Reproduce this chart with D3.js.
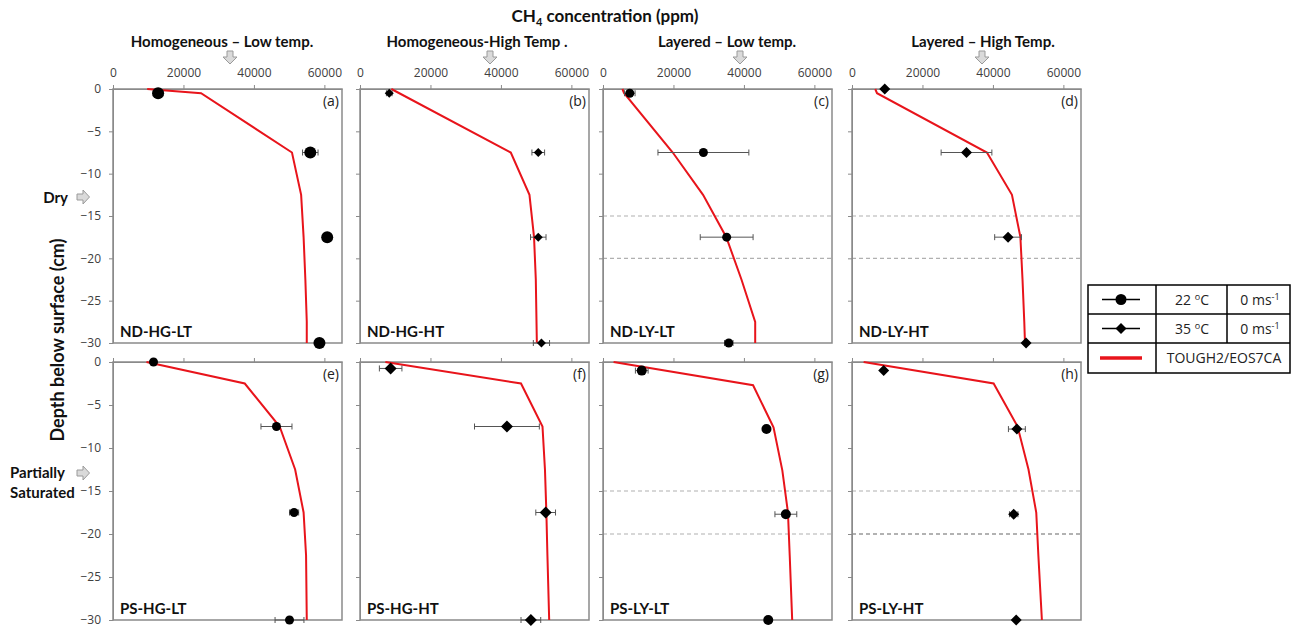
<!DOCTYPE html>
<html>
<head>
<meta charset="utf-8">
<script src="https://cdn.jsdelivr.net/npm/d3@7"></script>
<style>
	body { margin: 0; background: #fff; }
	text { font-family: "Open Sans", sans-serif; }
	.tick text { font-size: 12px; fill: #404040; font-family: "Open Sans", sans-serif; }
	.tick line, .domain { stroke: #8a8a8a; }
	.bold { font-family: Lato, sans-serif; font-weight: bold; fill: #111; }
</style>
</head>
<body>
<div id="chart"></div>
<script>
///////////////////////////////////////////////////////////////////////////
/////////////////////////////// The data //////////////////////////////////
///////////////////////////////////////////////////////////////////////////

var panelLetters = ["a", "b", "c", "d", "e", "f", "g", "h"];
var panelNames = ["ND-HG-LT", "ND-HG-HT", "ND-LY-LT", "ND-LY-HT",
	"PS-HG-LT", "PS-HG-HT", "PS-LY-LT", "PS-LY-HT"];
var panelTemp = [22, 35, 22, 35, 22, 35, 22, 35];
var layered = [false, false, true, true, false, false, true, true];
var layerDepths = [-15, -20];

var columnTitles = ["Homogeneous \u2013 Low temp.", "Homogeneous-High Temp .",
	"Layered \u2013 Low temp.", "Layered \u2013 High Temp."];
var xTicks = [0, 20000, 40000, 60000];
var yTicks = [0, -5, -10, -15, -20, -25, -30];

//measured CH4 (ppm) with error bar half widths
var obsDepths = [
	[-0.5, -7.5, -17.5, -30], [-0.5, -7.5, -17.5, -30],
	[-0.5, -7.5, -17.5, -30], [0, -7.5, -17.5, -30],
	[0, -7.5, -17.5, -30], [-0.75, -7.5, -17.5, -30],
	[-1, -7.8, -17.7, -30], [-1, -7.8, -17.7, -30]
];
var obsValues = [
	[12800, 56000, 60800, 58600], [8300, 50600, 50600, 51500],
	[7600, 28500, 35100, 35700], [9300, 32500, 44300, 49400],
	[11500, 46400, 51400, 50100], [8700, 41700, 52700, 48500],
	[11000, 46400, 51900, 46900], [9000, 46800, 45900, 46600]
];
var obsErrors = [
	[1400, 2200, 0, 0], [800, 1800, 2200, 2300],
	[1500, 12900, 7500, 1200], [0, 7200, 3800, 0],
	[0, 4400, 1300, 4100], [3200, 9200, 2800, 2800],
	[1800, 0, 3100, 0], [0, 2400, 1200, 0]
];

//TOUGH2/EOS7CA profiles
var modelDepths = [
	[0, -0.5, -7.5, -12.5, -17.5, -22.5, -27.5, -30],
	[0, -7.5, -12.5, -17.5, -22.5, -30],
	[0, -0.5, -7.5, -12.5, -17.5, -22.5, -27.5, -30],
	[0, -0.5, -7.5, -12.5, -17.5, -22.5, -27.5, -30],
	[0, -2.5, -7.5, -12.5, -17.5, -22.5, -30],
	[0, -2.5, -7.5, -12.5, -17.5, -22.5, -30],
	[0, -2.7, -7.6, -12.6, -17.5, -22.5, -30],
	[0, -2.5, -7.5, -12.5, -17.5, -22.5, -30]
];
var modelValues = [
	[9700, 25000, 50800, 53400, 54100, 54600, 55000, 55000],
	[8900, 42800, 48100, 49400, 49900, 50200],
	[5500, 6000, 19800, 28400, 35000, 39300, 43200, 43200],
	[6600, 7100, 38300, 45400, 47800, 48400, 48900, 49100],
	[9500, 37400, 47300, 51700, 54100, 54800, 55000],
	[7200, 45700, 51800, 52500, 52900, 53200, 53700],
	[3000, 42600, 48400, 50900, 52500, 53000, 53700],
	[3300, 40200, 47000, 50100, 52300, 52900, 53900]
];

///////////////////////////////////////////////////////////////////////////
//////////////////////////// Set up the SVG ///////////////////////////////
///////////////////////////////////////////////////////////////////////////

var width = 1291, height = 628;
var panelLeft = [113, 360, 603, 852];
var panelW = 229;
var rowTop = [89, 362], rowBottom = [343, 620];
var markerSize = [6, 4.5, 4.5, 5.5, 4.5, 6, 5, 5.5];
var red = "#e8141b";

var svg = d3.select("#chart").append("svg")
	.attr("width", width)
	.attr("height", height);

svg.append("rect").attr("width", width).attr("height", height).style("fill", "#fff");

function diamond(s) {
	return "M0," + (-s) + "L" + s + ",0L0," + s + "L" + (-s) + ",0Z";
}
function drawMarker(g, temp, s) {
	if (temp === 22) {
		g.append("circle").attr("r", s).style("fill", "#000");
	} else {
		g.append("path").attr("d", diamond(s)).style("fill", "#000");
	}
}

///////////////////////////////////////////////////////////////////////////
/////////////////////////////// Panels ////////////////////////////////////
///////////////////////////////////////////////////////////////////////////

panelLetters.forEach(function(letter, i) {
	var row = Math.floor(i / 4), col = i % 4;
	var x0 = panelLeft[col], top = rowTop[row], bottom = rowBottom[row];

	var x = d3.scaleLinear().domain([0, 65000]).range([x0, x0 + panelW]);
	var y = d3.scaleLinear().domain([0, -30]).range([top, bottom]);

	var g = svg.append("g").attr("class", "panel");

	//frame
	g.append("rect")
		.attr("x", x0).attr("y", top)
		.attr("width", panelW).attr("height", bottom - top)
		.style("fill", "none").style("stroke", "#8a8a8a").style("stroke-width", 1.5);

	//layer boundaries
	if (layered[i]) {
		g.selectAll(".layer").data(layerDepths).enter().append("line")
			.attr("x1", x0).attr("x2", x0 + panelW)
			.attr("y1", function(d) { return y(d); })
			.attr("y2", function(d) { return y(d); })
			.style("stroke", function(d, j) { return (i === 7 && j === 1) ? "#666" : "#b0b0b0"; })
			.style("stroke-width", 1.2)
			.style("stroke-dasharray", "4,3");
	}

	g.append("g")
		.attr("transform", "translate(0," + top + ")")
		.call(d3.axisTop(x).tickValues(xTicks).tickSize(4).tickSizeOuter(0).tickPadding(8)
			.tickFormat(row === 0 ? d3.format("d") : ""));

	g.append("g")
		.attr("transform", "translate(" + x0 + ",0)")
		.call(d3.axisLeft(y).tickValues(yTicks).tickSize(4).tickSizeOuter(0).tickPadding(8)
			.tickFormat(col === 0 ? d3.format("d") : ""));

	//model line
	var line = d3.line()
		.x(function(d) { return x(d[1]); })
		.y(function(d) { return y(d[0]); });
	g.append("path")
		.datum(d3.zip(modelDepths[i], modelValues[i]))
		.attr("d", line)
		.style("fill", "none").style("stroke", red).style("stroke-width", 2);

	//error bars
	var obs = d3.zip(obsDepths[i], obsValues[i], obsErrors[i]);
	var err = g.selectAll(".err").data(obs.filter(function(d) { return d[2] > 0; }))
		.enter().append("g").attr("class", "err")
		.style("stroke", "#555").style("stroke-width", 1);
	err.append("line")
		.attr("x1", function(d) { return x(d[1] - d[2]); })
		.attr("x2", function(d) { return x(d[1] + d[2]); })
		.attr("y1", function(d) { return y(d[0]); })
		.attr("y2", function(d) { return y(d[0]); });
	[-1, 1].forEach(function(sgn) {
		err.append("line")
			.attr("x1", function(d) { return x(d[1] + sgn * d[2]); })
			.attr("x2", function(d) { return x(d[1] + sgn * d[2]); })
			.attr("y1", function(d) { return y(d[0]) - 3; })
			.attr("y2", function(d) { return y(d[0]) + 3; });
	});

	//markers
	obs.forEach(function(d) {
		var m = g.append("g").attr("transform", "translate(" + x(d[1]) + "," + y(d[0]) + ")");
		drawMarker(m, panelTemp[i], markerSize[i]);
	});

	g.append("text")
		.attr("x", x0 + panelW - 3).attr("y", top + 17)
		.style("text-anchor", "end").style("font-size", "14px").style("fill", "#222")
		.text("(" + letter + ")");

	g.append("text").attr("class", "bold")
		.attr("x", x0 + 7).attr("y", bottom - 6)
		.style("font-size", "15px")
		.text(panelNames[i]);
});

///////////////////////////////////////////////////////////////////////////
//////////////////////////////// Titles ///////////////////////////////////
///////////////////////////////////////////////////////////////////////////

function downArrow(cx, ty) {
	svg.append("path")
		.attr("d", "M" + (cx - 3) + "," + ty + "h6v6h4l-7,7l-7,-7h4z")
		.style("fill", "#dadada").style("stroke", "#9a9a9a").style("stroke-width", 1);
}
function rightArrow(lx, cy) {
	svg.append("path")
		.attr("d", "M" + lx + "," + (cy - 3) + "h6v-4l6.5,7l-6.5,7v-4h-6z")
		.style("fill", "#dadada").style("stroke", "#9a9a9a").style("stroke-width", 1);
}

var mainTitle = svg.append("text").attr("class", "bold")
	.attr("x", 605).attr("y", 22)
	.style("text-anchor", "middle").style("font-size", "17px");
mainTitle.append("tspan").text("CH");
mainTitle.append("tspan").attr("dy", 4).style("font-size", "11px").text("4");
mainTitle.append("tspan").attr("dy", -4).text(" concentration (ppm)");

var titleX = [222, 477, 727, 983];
var arrowX = [230, 490, 740, 982];
columnTitles.forEach(function(t, i) {
	svg.append("text").attr("class", "bold")
		.attr("x", titleX[i]).attr("y", 47)
		.style("text-anchor", "middle").style("font-size", "15px")
		.text(t);
	downArrow(arrowX[i], 51);
});

svg.append("text").attr("class", "bold")
	.attr("transform", "translate(64,340) rotate(-90)")
	.style("text-anchor", "middle").style("font-size", "18px")
	.text("Depth below surface (cm)");

svg.append("text").attr("class", "bold")
	.attr("x", 68).attr("y", 203)
	.style("text-anchor", "end").style("font-size", "15px")
	.text("Dry");
rightArrow(77, 197);

svg.append("text").attr("class", "bold")
	.attr("x", 10).attr("y", 478).style("font-size", "15px").text("Partially");
svg.append("text").attr("class", "bold")
	.attr("x", 10).attr("y", 498).style("font-size", "15px").text("Saturated");
rightArrow(77, 473);

///////////////////////////////////////////////////////////////////////////
//////////////////////////////// Legend ///////////////////////////////////
///////////////////////////////////////////////////////////////////////////

var legend = svg.append("g").attr("class", "legend");
var lx = 1088, ly = 285, lw = 202, rowH = [29, 29, 30];
var colX = [1088, 1156, 1227];

legend.append("rect")
	.attr("x", lx).attr("y", ly).attr("width", lw).attr("height", d3.sum(rowH))
	.style("fill", "#fff").style("stroke", "#000").style("stroke-width", 1.5);
legend.append("line").attr("x1", lx).attr("x2", lx + lw).attr("y1", ly + 29).attr("y2", ly + 29)
	.style("stroke", "#000").style("stroke-width", 1.5);
legend.append("line").attr("x1", lx).attr("x2", lx + lw).attr("y1", ly + 58).attr("y2", ly + 58)
	.style("stroke", "#000").style("stroke-width", 1.5);
legend.append("line").attr("x1", colX[1]).attr("x2", colX[1]).attr("y1", ly).attr("y2", ly + 88)
	.style("stroke", "#000").style("stroke-width", 1.5);
legend.append("line").attr("x1", colX[2]).attr("x2", colX[2]).attr("y1", ly).attr("y2", ly + 58)
	.style("stroke", "#000").style("stroke-width", 1.5);

[22, 35].forEach(function(t, j) {
	var cy = ly + 14.5 + j * 29;
	legend.append("line").attr("x1", 1102).attr("x2", 1140).attr("y1", cy).attr("y2", cy)
		.style("stroke", "#000").style("stroke-width", 1.5);
	var m = legend.append("g").attr("transform", "translate(1121," + cy + ")");
	drawMarker(m, t, 5.5);

	var tt = legend.append("text").attr("x", 1192).attr("y", cy + 5)
		.style("text-anchor", "middle").style("font-size", "14px").style("fill", "#222");
	tt.append("tspan").text(t + " ");
	tt.append("tspan").attr("dy", -5).style("font-size", "9px").text("o");
	tt.append("tspan").attr("dy", 5).text("C");

	var ms = legend.append("text").attr("x", 1260).attr("y", cy + 5)
		.style("text-anchor", "middle").style("font-size", "14px").style("fill", "#222");
	ms.append("tspan").text("0 ms");
	ms.append("tspan").attr("dy", -5).style("font-size", "9px").text("-1");
});

legend.append("line").attr("x1", 1100).attr("x2", 1142).attr("y1", ly + 73).attr("y2", ly + 73)
	.style("stroke", red).style("stroke-width", 3.5);
legend.append("text").attr("x", 1224).attr("y", ly + 78)
	.style("text-anchor", "middle").style("font-size", "14px").style("fill", "#222")
	.text("TOUGH2/EOS7CA");
</script>
</body>
</html>
